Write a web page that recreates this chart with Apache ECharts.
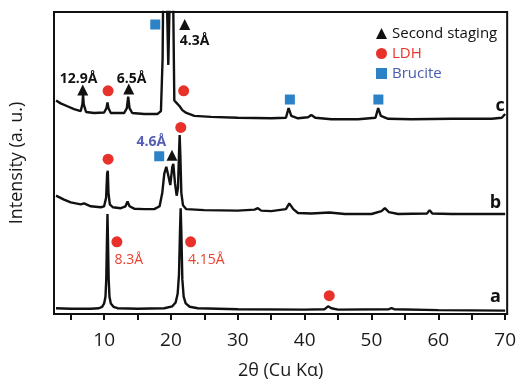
<!DOCTYPE html>
<html>
<head>
<meta charset="utf-8">
<script src="https://cdn.jsdelivr.net/npm/echarts@6/dist/echarts.min.js"></script>
<style>
html,body{margin:0;padding:0;background:#fff;}
#chart{width:519px;height:385px;}
</style>
</head>
<body>
<div id="chart"></div>
<script>
// XRD patterns, [2theta, intensity + offset]
var patternA = [
	[2.8,6],[5,5.5],[8,5.5],[9.2,6],[9.7,7.5],[10.0,11],[10.2,18],[10.32,36],[10.42,76],[10.5,104],
	[10.58,76],[10.68,36],[10.8,18],[11.0,11],[11.4,7.5],[12,6],[15,5.5],[19,6],[20.2,8],[20.7,12],
	[21.0,21],[21.2,41],[21.35,86],[21.45,110],[21.55,86],[21.7,36],[21.9,18],[22.2,11],[22.8,7.5],[24,6],
	[30,5],[40,4.5],[43.0,5],[43.5,8],[43.7,9],[44.0,6],[45,4.5],[52.6,5],[53,6],[53.4,5],[60,4],[70,3.5]
];
var patternB = [
	[2.8,123],[4,119],[5,116],[6.5,114],[7.0,115],[8,112],[9.5,111],[10.0,112],[10.3,121],[10.45,146],
	[10.55,149],[10.65,126],[10.85,114],[11.3,111],[12.5,110],[13.2,112],[13.5,117],[13.8,112],[14.5,109.5],[16,109],
	[17.5,109],[18.3,112],[18.7,126],[19.0,146],[19.3,153],[19.6,144],[19.9,134],[20.2,153],[20.35,156],[20.6,136],
	[20.85,123],[21.05,131],[21.2,166],[21.3,186],[21.4,166],[21.55,126],[21.8,113],[22.3,109],[25,108],[30,107.5],
	[32.5,108.5],[33.0,110],[33.5,107.5],[35,107],[37.2,109],[37.7,115],[38.3,109],[39,105],[41,104.5],[43.7,105.5],
	[46,104],[50,104],[51.5,107],[52.0,110],[52.6,106],[54,104],[58.3,104.5],[58.7,108],[59.1,104.5],[62,104],
	[66,104],[70,104]
];
var patternC = [
	[2.8,222],[3.5,219],[4.5,216],[5.5,213],[6.5,211],[6.75,218],[6.85,228],[6.95,218],[7.3,210],[8.5,209],
	[10.0,209.5],[10.35,214],[10.5,220],[10.65,214],[11,209],[13.0,209],[13.4,214],[13.6,226],[13.8,214],[14.2,209],
	[16,208],[18.0,208],[18.5,211],[18.75,266],[18.85,346],[19.35,340],[19.6,259],[19.85,340],[20.3,346],[20.5,222],
	[20.9,219],[21.3,216],[21.7,212],[22.3,209],[23.5,206],[26,205],[30,204],[35,203.5],[37.2,204],[37.6,214],
	[38.0,206],[39,203.5],[40.5,204.5],[41,207],[41.6,204],[44,202.5],[48,202.5],[50.6,204],[51.0,214],[51.4,206],
	[52.5,203],[56,202.5],[62,203],[68,203],[69.5,204],[70,208]
];

// phase markers
var stagingMarks = [[6.8,233],[13.68,234],[22.06,301],[20.15,165]];
var ldhMarks = [[10.59,232],[21.9,232],[10.59,161],[21.47,194],[11.91,75],[22.94,75],[43.68,19]];
var bruciteMarks = [[17.65,301],[37.79,223],[51.03,223],[18.24,164]];

// d-spacing labels and sample names
var blackLabels = [[6.18,244,'12.9Å'],[14.12,244,'6.5Å'],[23.53,284,'4.3Å']];
var blueLabels = [[17.06,179,'4.6Å']];
var redLabels = [[13.68,56,'8.3Å'],[25.29,56,'4.15Å']];
var sampleLabels = [[69.26,216,'c'],[68.53,116,'b'],[68.53,18,'a']];

var xTicks = [5,10,15,20,25,30,35,40,45,50,55,60,65,70];
var xLabels = [10,20,30,40,50,60,70];

var FONT = '"Open Sans", "DejaVu Sans", sans-serif';

function lineSeries(data){
	return {
		type:'line',
		data:data,
		showSymbol:false,
		clip:true,
		z:2,
		lineStyle:{color:'#111',width:2.4},
		animation:false
	};
}

function markSeries(name,data,symbol,size,color){
	return {
		name:name,
		type:'scatter',
		data:data,
		symbol:symbol,
		symbolSize:size,
		itemStyle:{color:color, opacity:1},
		z:5,
		animation:false
	};
}

function textSeries(data,color,size,weight){
	return {
		type:'scatter',
		data:data,
		symbolSize:0,
		silent:true,
		z:6,
		animation:false,
		itemStyle:{opacity:1},
		label:{
			show:true,
			position:'inside',
			color:color,
			opacity:1,
			fontSize:size,
			fontWeight:weight,
			fontFamily:FONT,
			formatter:function(p){ return p.value[2]; }
		}
	};
}

var chart = echarts.init(document.getElementById('chart'), null, {renderer:'canvas'});

var option = {
	backgroundColor:'#fff',
	animation:false,
	textStyle:{fontFamily:FONT},
	grid:{
		left:48, right:10, top:12, bottom:59,
		show:true, borderColor:'#111', borderWidth:2
	},
	legend:{
		orient:'vertical',
		left:371, top:21,
		itemWidth:11, itemHeight:11,
		itemGap:5,
		textStyle:{fontSize:15, fontFamily:FONT},
		data:[
			{name:'Second staging', textStyle:{color:'#111'}},
			{name:'LDH', textStyle:{color:'#e8352c'}},
			{name:'Brucite', textStyle:{color:'#4a5bb2'}}
		]
	},
	xAxis:{
		type:'value',
		min:2.5, max:70.3,
		name:'2θ (Cu Kα)',
		nameLocation:'middle',
		nameGap:48,
		nameTextStyle:{fontSize:18, color:'#1a1a1a', fontFamily:FONT},
		axisLine:{show:true, lineStyle:{color:'#111', width:2}},
		axisTick:{show:true, inside:false, length:6, customValues:xTicks, lineStyle:{color:'#111', width:2}},
		axisLabel:{show:true, customValues:xLabels, fontSize:19, color:'#1a1a1a', margin:17, fontFamily:FONT},
		splitLine:{show:false}
	},
	yAxis:{
		type:'value',
		min:0, max:314,
		name:'Intensity (a. u.)',
		nameLocation:'middle',
		nameGap:28,
		nameTextStyle:{fontSize:18, color:'#1a1a1a', fontFamily:FONT},
		axisLine:{show:false},
		axisTick:{show:false},
		axisLabel:{show:false},
		splitLine:{show:false}
	},
	series:[
		lineSeries(patternA),
		lineSeries(patternB),
		lineSeries(patternC),
		markSeries('Second staging', stagingMarks, 'triangle', 11, '#111'),
		markSeries('LDH', ldhMarks, 'circle', 11, '#e8312a'),
		markSeries('Brucite', bruciteMarks, 'rect', 10, '#2c82c6'),
		textSeries(blackLabels, '#111', 14, 'bold'),
		textSeries(blueLabels, '#5560b5', 14, 'bold'),
		textSeries(redLabels, '#e8412f', 14, 'normal'),
		textSeries(sampleLabels, '#111', 18, 'bold')
	]
};

chart.setOption(option);
</script>
</body>
</html>
